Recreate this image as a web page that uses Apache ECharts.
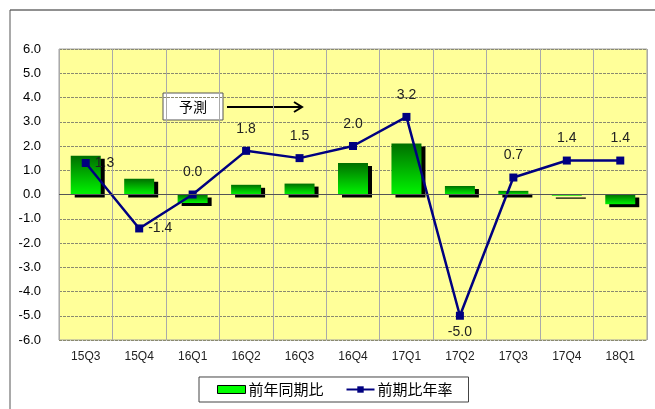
<!DOCTYPE html>
<html>
<head>
<meta charset="utf-8">
<script src="https://cdn.jsdelivr.net/npm/echarts@6/dist/echarts.min.js"></script>
<style>
  html, body { margin: 0; padding: 0; background: #fff; }
  #main { width: 655px; height: 409px; }
</style>
</head>
<body>
<div id="main"></div>
<script>
// 四半期
var quarters = ['15Q3', '15Q4', '16Q1', '16Q2', '16Q3', '16Q4', '17Q1', '17Q2', '17Q3', '17Q4', '18Q1'];
// 前年同期比 (棒)
var yoyValues = [1.6, 0.65, -0.35, 0.4, 0.45, 1.3, 2.1, 0.35, 0.15, -0.05, -0.4];
// 前期比年率 (折れ線)
var qoqValues = [1.3, -1.4, 0.0, 1.8, 1.5, 2.0, 3.2, -5.0, 0.7, 1.4, 1.4];
var yTicks = [-6, -5, -4, -3, -2, -1, 0, 1, 2, 3, 4, 5, 6];
var seriesNames = ['前年同期比', '前期比年率'];
var noteText = '予測';

var font = '"Liberation Sans", "Noto Sans CJK JP", sans-serif';

// ラベル位置 (Excel の配置に合わせる)
var labelPos = { '15Q3': 'right', '15Q4': 'right', '17Q2': 'bottom' };

var lineData = qoqValues.map(function (v, i) {
    var pos = labelPos[quarters[i]] || 'top';
    return {
        value: v,
        label: { position: pos, distance: pos == 'top' ? 11 : 5 }
    };
});

var chart = echarts.init(document.getElementById('main'));

var option = {
    animation: false,
    textStyle: { fontFamily: font },
    grid: {
        left: 59,
        right: 8,
        top: 49,
        bottom: 69,
        show: true,
        backgroundColor: '#ffff99',
        borderColor: '#a0a0a0',
        borderWidth: 1
    },
    legend: {
        bottom: 7,
        left: 199,
        itemWidth: 28,
        itemHeight: 8,
        itemGap: 22,
        padding: [5, 16, 5, 18],
        borderColor: '#444',
        borderWidth: 1,
        textStyle: { fontSize: 15, color: '#000', fontFamily: '"Noto Sans CJK JP", sans-serif', padding: [0, 0, 0, -2] },
        data: [
            { name: seriesNames[0], icon: 'rect', itemStyle: { color: '#00ff00', borderColor: '#000', borderWidth: 1, shadowBlur: 0, shadowOffsetX: 0, shadowOffsetY: 0 } },
            { name: seriesNames[1] }
        ]
    },
    xAxis: {
        type: 'category',
        data: quarters,
        axisLine: { show: false },
        axisTick: { show: false },
        axisLabel: { color: '#222', fontSize: 12, margin: 11 },
        splitLine: { show: true, lineStyle: { color: '#aaaaaa', width: 1 } }
    },
    yAxis: {
        type: 'value',
        min: yTicks[0],
        max: yTicks[yTicks.length - 1],
        interval: 1,
        axisLine: { show: false },
        axisTick: { show: false },
        axisLabel: {
            color: '#000',
            fontSize: 13,
            margin: 18,
            formatter: function (v) { return v.toFixed(1); }
        },
        splitLine: { show: true, lineStyle: { color: '#8a8a70', type: [3, 1], width: 1 } }
    },
    series: [
        {
            name: seriesNames[0],
            type: 'bar',
            barWidth: 30,
            data: yoyValues,
            z: 2,
            itemStyle: {
                color: new echarts.graphic.LinearGradient(0, 0, 0, 1, [
                    { offset: 0, color: '#006e00' },
                    { offset: 1, color: '#00f500' }
                ]),
                borderWidth: 0,
                shadowColor: '#000',
                shadowOffsetX: 4,
                shadowOffsetY: 3,
                shadowBlur: 0
            },
            markLine: {
                silent: true,
                symbol: 'none',
                label: { show: false },
                lineStyle: { color: '#555', type: 'solid', width: 1 },
                data: [{ yAxis: 0 }]
            }
        },
        {
            name: seriesNames[1],
            type: 'line',
            data: lineData,
            z: 3,
            symbol: 'rect',
            symbolSize: 8,
            color: '#000080',
            lineStyle: { color: '#000080', width: 2.5 },
            itemStyle: { color: '#000080' },
            label: {
                show: true,
                color: '#222',
                fontSize: 14,
                fontFamily: font,
                formatter: function (p) { return p.value.toFixed(1); }
            }
        }
    ],
    graphic: [
        { type: 'line', silent: true, shape: { x1: 10, y1: 10, x2: 655, y2: 10 }, style: { stroke: '#222', lineWidth: 1 } },
        { type: 'line', silent: true, shape: { x1: 10, y1: 10, x2: 10, y2: 409 }, style: { stroke: '#555', lineWidth: 1 } },
        {
            type: 'group',
            silent: true,
            z: 100,
            children: [
                { type: 'rect', shape: { x: 163, y: 93, width: 60, height: 27 }, style: { fill: '#fff', stroke: '#555', lineWidth: 1 } },
                { type: 'text', x: 193, y: 107, style: { text: noteText, fill: '#000', font: '14px "Noto Sans CJK JP", sans-serif', align: 'center', verticalAlign: 'middle' } },
                { type: 'line', shape: { x1: 227, y1: 107, x2: 302, y2: 107 }, style: { stroke: '#000', lineWidth: 2 } },
                { type: 'polyline', shape: { points: [[294, 102], [302, 107], [294, 112]] }, style: { stroke: '#000', lineWidth: 2, fill: null } }
            ]
        }
    ]
};

chart.setOption(option);
</script>
</body>
</html>
